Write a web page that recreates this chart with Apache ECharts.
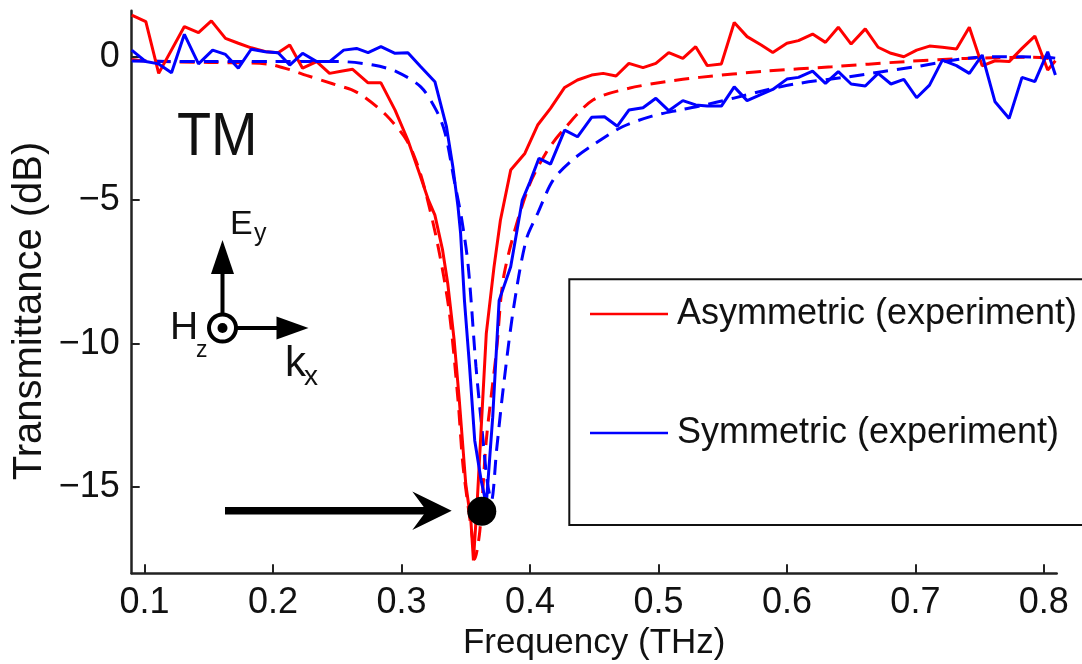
<!DOCTYPE html>
<html><head><meta charset="utf-8">
<script src="https://cdn.jsdelivr.net/npm/echarts@6/dist/echarts.min.js"></script>
<style>html,body{margin:0;padding:0;background:#fff}#c{width:1082px;height:664px}</style>
</head><body><div id="c"></div>
<script>
// ---- tick labels ----
const xTicks = [0.1, 0.2, 0.3, 0.4, 0.5, 0.6, 0.7, 0.8];
const yTicks = [-15, -10, -5, 0];

// ---- Asymmetric (experiment) : red solid ----
const asymExpFreq = [0.090,0.101,0.111,0.131,0.142,0.152,0.163,0.173,0.183,0.195,0.204,0.213,0.223,0.234,0.244,0.254,0.262,0.274,0.284,0.295,0.305,0.314,0.321,0.326,0.332,0.336,0.341,0.345,0.350,0.354,0.356,0.359,0.366,0.372,0.377,0.385,0.396,0.406,0.416,0.427,0.437,0.448,0.457,0.467,0.477,0.488,0.498,0.508,0.519,0.529,0.538,0.549,0.559,0.569,0.580,0.589,0.600,0.609,0.620,0.630,0.640,0.650,0.661,0.671,0.681,0.691,0.701,0.711,0.721,0.732,0.742,0.752,0.762,0.773,0.783,0.793,0.803,0.809];
const asymExpDb = [1.45,1.22,-0.58,1.05,0.84,1.25,0.64,0.47,0.31,0.17,0.14,0.41,-0.40,-0.17,-0.58,-0.50,-0.44,-0.91,-0.91,-1.86,-2.91,-4.07,-5.00,-5.52,-6.74,-7.90,-9.88,-11.97,-14.88,-16.16,-17.55,-15.46,-9.65,-7.33,-5.70,-3.95,-3.37,-2.38,-1.80,-1.07,-0.81,-0.64,-0.58,-0.67,-0.23,-0.38,-0.23,0.14,-0.06,0.35,-0.31,-0.25,1.19,0.70,0.41,0.15,0.47,0.56,0.79,0.50,1.03,0.44,0.97,0.33,0.12,0.00,0.23,0.37,0.33,0.27,1.03,-0.32,-0.14,-0.17,0.29,0.72,-0.46,-0.14];

// ---- Symmetric (experiment) : blue solid ----
const symExpFreq = [0.090,0.101,0.111,0.121,0.131,0.142,0.153,0.163,0.173,0.183,0.194,0.204,0.213,0.223,0.234,0.244,0.255,0.265,0.274,0.284,0.295,0.305,0.315,0.326,0.335,0.340,0.344,0.346,0.349,0.353,0.357,0.362,0.366,0.371,0.376,0.385,0.394,0.400,0.407,0.416,0.427,0.437,0.448,0.458,0.468,0.477,0.488,0.498,0.508,0.519,0.529,0.538,0.549,0.559,0.569,0.580,0.589,0.600,0.609,0.620,0.630,0.640,0.650,0.661,0.671,0.681,0.691,0.701,0.711,0.721,0.732,0.742,0.752,0.762,0.773,0.783,0.793,0.803,0.809];
const symExpDb = [0.23,-0.17,-0.25,-0.56,0.78,-0.25,0.23,0.08,-0.40,0.26,0.17,0.14,-0.29,0.12,-0.17,-0.17,0.23,0.29,0.14,0.35,0.12,0.14,-0.35,-0.87,-2.44,-3.84,-5.23,-6.15,-8.49,-10.81,-13.37,-14.76,-15.60,-12.56,-8.49,-7.32,-5.00,-4.36,-3.54,-3.74,-2.56,-2.79,-2.11,-2.09,-2.42,-1.86,-1.78,-1.45,-1.88,-1.53,-1.68,-1.72,-1.72,-1.05,-1.53,-1.31,-1.14,-0.78,-0.72,-0.50,-0.93,-0.52,-0.95,-1.02,-0.58,-0.95,-0.79,-1.43,-0.99,-0.12,-0.31,-0.58,0.06,-1.57,-2.15,-0.72,-0.87,0.17,-0.64];

// ---- Asymmetric (simulation) : red dashed ----
const asymSimFreq = [0.090,0.100,0.150,0.195,0.213,0.226,0.247,0.261,0.271,0.288,0.304,0.313,0.319,0.328,0.337,0.344,0.348,0.3555,0.357,0.361,0.366,0.374,0.380,0.398,0.413,0.427,0.449,0.477,0.506,0.532,0.584,0.635,0.692,0.739,0.791,0.809];
const asymSimDb = [-0.10,-0.15,-0.20,-0.25,-0.45,-0.65,-0.95,-1.15,-1.40,-2.03,-2.91,-3.84,-4.76,-6.50,-8.83,-11.97,-14.30,-16.86,-17.50,-16.51,-13.37,-10.23,-7.55,-4.65,-3.31,-2.50,-1.51,-1.10,-0.87,-0.72,-0.50,-0.35,-0.17,-0.06,-0.02,-0.09];

// ---- Symmetric (simulation) : blue dashed ----
const symSimFreq = [0.090,0.150,0.200,0.252,0.278,0.296,0.315,0.327,0.334,0.341,0.347,0.352,0.358,0.363,0.367,0.370,0.374,0.379,0.387,0.397,0.406,0.418,0.433,0.451,0.472,0.495,0.516,0.532,0.558,0.584,0.609,0.648,0.674,0.700,0.739,0.765,0.801,0.809];
const symSimDb = [-0.15,-0.17,-0.17,-0.17,-0.29,-0.52,-1.05,-1.86,-2.67,-4.30,-5.70,-7.32,-10.81,-13.14,-14.88,-15.46,-13.72,-11.63,-8.83,-6.39,-5.46,-4.30,-3.60,-3.02,-2.44,-2.07,-1.86,-1.72,-1.45,-1.16,-0.93,-0.70,-0.52,-0.35,-0.06,0.00,-0.02,-0.05];

// ---- marked resonance point ----
const markerFreq = [0.3625];
const markerDb = [-15.84];

const zip = (a, b) => a.map((v, i) => [v, b[i]]);
const RED = '#ff0000', BLUE = '#0000ff';
const FONT = "'Liberation Sans', Arial, sans-serif";
const NARROW = "'Liberation Sans Narrow', 'Liberation Sans', Arial, sans-serif";
const minus = v => (v < 0 ? '\u2212' + Math.abs(v) : String(v));

const chart = echarts.init(document.getElementById('c'), null, {renderer: 'canvas'});
chart.setOption({
  animation: false,
  backgroundColor: '#fff',
  grid: {left: 131.7, right: 25.3, top: 10.8, bottom: 90.7, containLabel: false, outerBoundsMode: 'none'},
  xAxis: {
    type: 'value', min: 0.09, max: 0.81,
    name: 'Frequency (THz)', nameLocation: 'middle', nameGap: 46,
    nameTextStyle: {fontFamily: FONT, fontSize: 35, color: '#111'},
    axisLine: {show: true, onZero: false, lineStyle: {color: '#222', width: 2.5}},
    axisTick: {show: true, inside: true, length: 9, customValues: xTicks, lineStyle: {color: '#222', width: 2}},
    axisLabel: {customValues: xTicks, formatter: v => v.toFixed(1), fontFamily: NARROW, fontSize: 36, color: '#111', margin: 12},
    splitLine: {show: false}
  },
  yAxis: {
    type: 'value', min: -18, max: 1.6,
    axisLine: {show: true, onZero: false, lineStyle: {color: '#222', width: 2.5}},
    axisTick: {show: true, inside: true, length: 8, customValues: yTicks, lineStyle: {color: '#222', width: 2}},
    axisLabel: {customValues: yTicks, formatter: minus, fontFamily: NARROW, fontSize: 36, color: '#111', margin: 12},
    splitLine: {show: false}
  },
  legend: {
    data: ['Asymmetric (experiment)', 'Symmetric (experiment)'],
    orient: 'vertical', left: 585, top: 289, itemGap: 79, itemWidth: 78, itemHeight: 2.5, icon: 'rect',
    textStyle: {fontFamily: FONT, fontSize: 36, color: '#111', lineHeight: 40, padding: [0, 0, 0, 4]}
  },
  series: [
    {name: 'Asymmetric (simulation)', type: 'line', data: zip(asymSimFreq, asymSimDb), symbol: 'none', smooth: 0.3,
     lineStyle: {color: RED, width: 3, type: [15, 9]}, itemStyle: {color: RED}},
    {name: 'Symmetric (simulation)', type: 'line', data: zip(symSimFreq, symSimDb), symbol: 'none', smooth: 0.3,
     lineStyle: {color: BLUE, width: 3, type: [15, 9]}, itemStyle: {color: BLUE}},
    {name: 'Asymmetric (experiment)', type: 'line', data: zip(asymExpFreq, asymExpDb), symbol: 'none',
     lineStyle: {color: RED, width: 3}, itemStyle: {color: RED}},
    {name: 'Symmetric (experiment)', type: 'line', data: zip(symExpFreq, symExpDb), symbol: 'none',
     lineStyle: {color: BLUE, width: 3}, itemStyle: {color: BLUE}},
    {name: 'Resonance', type: 'scatter', data: zip(markerFreq, markerDb), symbol: 'circle', symbolSize: 29,
     itemStyle: {color: '#000', opacity: 1}, z: 5}
  ],
  graphic: [
    // y-axis title
    {type: 'text', x: 30, y: 311, rotation: Math.PI / 2, style: {text: 'Transmittance (dB)', fontFamily: FONT, fontSize: 40, fill: '#111', align: 'center', verticalAlign: 'middle'}},
    // legend frame
    {type: 'rect', shape: {x: 569.3, y: 279.3, width: 560, height: 245.7}, style: {fill: 'none', stroke: '#111', lineWidth: 2}, z: 1},
    // TM label
    {type: 'text', x: 177, y: 137.5, scaleX: 0.9, style: {text: 'TM', fontFamily: FONT, fontSize: 62, fill: '#111', align: 'left', verticalAlign: 'middle'}},
    // field diagram
    {type: 'line', shape: {x1: 222.5, y1: 328, x2: 222.5, y2: 268}, style: {stroke: '#000', lineWidth: 4}},
    {type: 'polygon', shape: {points: [[222.5, 240], [211, 274], [234, 274]]}, style: {fill: '#000'}},
    {type: 'line', shape: {x1: 222.5, y1: 328, x2: 280, y2: 328}, style: {stroke: '#000', lineWidth: 4}},
    {type: 'polygon', shape: {points: [[308.5, 328], [276.5, 316.5], [276.5, 339.5]]}, style: {fill: '#000'}},
    {type: 'circle', shape: {cx: 222.5, cy: 328, r: 13.5}, style: {fill: '#fff', stroke: '#000', lineWidth: 4}},
    {type: 'circle', shape: {cx: 222.5, cy: 328, r: 5}, style: {fill: '#000'}},
    {type: 'text', x: 230, y: 225, style: {text: 'E', fontFamily: FONT, fontSize: 34, fill: '#111', align: 'left', verticalAlign: 'middle'}},
    {type: 'text', x: 254, y: 234, style: {text: 'y', fontFamily: FONT, fontSize: 25, fill: '#111', align: 'left', verticalAlign: 'middle'}},
    {type: 'text', x: 170, y: 328, style: {text: 'H', fontFamily: FONT, fontSize: 39, fill: '#111', align: 'left', verticalAlign: 'middle'}},
    {type: 'text', x: 196, y: 351, style: {text: 'z', fontFamily: FONT, fontSize: 23, fill: '#111', align: 'left', verticalAlign: 'middle'}},
    {type: 'text', x: 285, y: 364, style: {text: 'k', fontFamily: FONT, fontSize: 42, fill: '#111', align: 'left', verticalAlign: 'middle'}},
    {type: 'text', x: 304, y: 377, style: {text: 'x', fontFamily: FONT, fontSize: 28, fill: '#111', align: 'left', verticalAlign: 'middle'}},
    // pointer arrow to resonance
    {type: 'line', shape: {x1: 225, y1: 510.7, x2: 428, y2: 510.7}, style: {stroke: '#000', lineWidth: 7.5}},
    {type: 'polygon', shape: {points: [[451.7, 510.7], [412.3, 491.5], [426.5, 510.7], [412.3, 530]]}, style: {fill: '#000'}}
  ]
});
</script>
</body></html>
